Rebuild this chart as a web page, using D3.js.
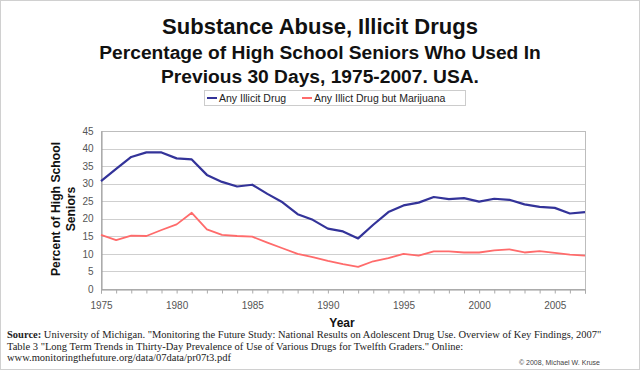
<!DOCTYPE html>
<html>
<head>
<meta charset="utf-8">
<script src="https://cdn.jsdelivr.net/npm/d3@7"></script>
<style>
  body { margin: 0; background: #fff; }
  svg { display: block; }
</style>
</head>
<body>
<div id="chart"></div>
<script>
// ---------------------------------------------------------
// DATA
// ---------------------------------------------------------
const years = d3.range(1975, 2008);

const anyIllicit = [30.7, 34.2, 37.6, 38.9, 38.9, 37.2, 36.9, 32.5, 30.5, 29.2,
  29.7, 27.1, 24.7, 21.3, 19.7, 17.2, 16.4, 14.4, 18.3, 21.9,
  23.8, 24.6, 26.2, 25.6, 25.9, 24.9, 25.7, 25.4, 24.1, 23.4,
  23.1, 21.5, 21.9];

const anyButMarijuana = [15.4, 13.9, 15.2, 15.1, 16.8, 18.4, 21.7, 17.0, 15.4, 15.1,
  14.9, 13.2, 11.6, 10.0, 9.1, 8.0, 7.1, 6.3, 7.9, 8.8,
  10.0, 9.5, 10.7, 10.7, 10.4, 10.4, 11.0, 11.3, 10.4, 10.8,
  10.3, 9.8, 9.5];

const seriesNames = ["Any Illicit Drug", "Any Illict Drug but Marijuana"];
const seriesColors = ["#333399", "#ff6b6b"];
const yTicks = d3.range(0, 50, 5);
const xTickYears = [1975, 1980, 1985, 1990, 1995, 2000, 2005];

const titleLines = [
  "Substance Abuse, Illicit Drugs",
  "Percentage of High School Seniors Who Used In",
  "Previous 30 Days, 1975-2007. USA."
];
const sourceLines = [
  ["Source:", " University of Michigan. \"Monitoring the Future Study: National Results on Adolescent Drug Use. Overview of Key Findings, 2007\""],
  ["", "Table 3 \"Long Term Trends in Thirty-Day Prevalence of Use of Various Drugs for Twelfth Graders.\" Online:"],
  ["", "www.monitoringthefuture.org/data/07data/pr07t3.pdf"]
];

// ---------------------------------------------------------
// SETUP
// ---------------------------------------------------------
const width = 640, height = 370;
const plot = { left: 101, right: 585, top: 131, bottom: 289 };
const sans = "Liberation Sans, Arial, sans-serif";

const svg = d3.select("#chart").append("svg")
  .attr("width", width).attr("height", height);

svg.append("rect")
  .attr("x", 0.5).attr("y", 0.5)
  .attr("width", width - 1).attr("height", height - 1)
  .attr("fill", "#fff").attr("stroke", "#d0d0d0");

const x = d3.scaleLinear().domain([1975, 2007]).range([plot.left, plot.right]);
const y = d3.scaleLinear().domain([0, 45]).range([plot.bottom, plot.top]);

// titles
svg.selectAll(".title").data(titleLines).enter().append("text")
  .attr("x", 320)
  .attr("y", (d, i) => [34, 59, 83][i])
  .attr("text-anchor", "middle")
  .attr("font-family", sans)
  .attr("font-weight", "bold")
  .attr("font-size", (d, i) => i === 0 ? 22 : 19.2)
  .attr("fill", "#111")
  .text(d => d);

// legend
const legend = svg.append("g");
legend.append("rect")
  .attr("x", 204.5).attr("y", 90.5).attr("width", 261).attr("height", 15)
  .attr("fill", "#fff").attr("stroke", "#ccc");
const legendX = [207, 302];
seriesNames.forEach((name, i) => {
  legend.append("line")
    .attr("x1", legendX[i]).attr("x2", legendX[i] + 10)
    .attr("y1", 98).attr("y2", 98)
    .attr("stroke", seriesColors[i]).attr("stroke-width", 2);
  legend.append("text")
    .attr("x", legendX[i] + 12).attr("y", 102)
    .attr("font-family", sans)
    .attr("font-size", 10.5).attr("fill", "#222")
    .text(name);
});

// gridlines
svg.append("g").selectAll("line").data(yTicks.slice(1)).enter().append("line")
  .attr("x1", plot.left).attr("x2", plot.right)
  .attr("y1", d => Math.round(y(d)) + 0.5).attr("y2", d => Math.round(y(d)) + 0.5)
  .attr("stroke", "#cfcfcf");

// plot border
svg.append("rect")
  .attr("x", plot.left + 0.5).attr("y", Math.round(y(45)) + 0.5)
  .attr("width", plot.right - plot.left).attr("height", Math.round(y(0)) - Math.round(y(45)))
  .attr("fill", "none").attr("stroke", "#bdbdbd");

// y axis
const yAxis = svg.append("g")
  .attr("transform", `translate(${plot.left + 0.5},0)`)
  .call(d3.axisLeft(y).tickValues(yTicks).tickSize(0).tickPadding(8));
yAxis.select(".domain").attr("stroke", "#999");
yAxis.selectAll("text")
  .attr("font-family", sans)
  .attr("font-size", 10).attr("fill", "#555");

// x axis
const xAxis = svg.append("g")
  .attr("transform", `translate(0,${Math.round(y(0)) + 0.5})`)
  .call(d3.axisBottom(x).tickValues(years).tickSize(4).tickPadding(8)
    .tickFormat(d => xTickYears.includes(d) ? d : ""));
xAxis.select(".domain").attr("stroke", "#999");
xAxis.selectAll(".tick line").attr("stroke", "#aaa");
xAxis.selectAll("text")
  .attr("font-family", sans)
  .attr("font-size", 10).attr("fill", "#555");

// axis titles
svg.append("text")
  .attr("x", 342).attr("y", 327)
  .attr("text-anchor", "middle")
  .attr("font-family", sans)
  .attr("font-weight", "bold").attr("font-size", 12).attr("fill", "#111")
  .text("Year");

const yTitle = svg.append("text")
  .attr("transform", "translate(60,209) rotate(-90)")
  .attr("text-anchor", "middle")
  .attr("font-family", sans)
  .attr("font-weight", "bold").attr("font-size", 12.2).attr("fill", "#111");
yTitle.append("tspan").attr("x", 0).attr("dy", 0).text("Percent of High School");
yTitle.append("tspan").attr("x", 0).attr("dy", 15).text("Seniors");

// lines
const line = d3.line().x((d, i) => x(years[i])).y(d => y(d));
[anyIllicit, anyButMarijuana].forEach((vals, i) => {
  svg.append("path")
    .datum(vals)
    .attr("d", line)
    .attr("fill", "none")
    .attr("stroke", seriesColors[i])
    .attr("stroke-width", i === 0 ? 2.2 : 1.8)
    .attr("stroke-linejoin", "round");
});

// source
const src = svg.append("g");
sourceLines.forEach((l, i) => {
  const t = src.append("text")
    .attr("x", 7).attr("y", 338 + i * 11.5)
    .attr("font-family", "Liberation Serif, Times New Roman, serif")
    .attr("font-size", 10.5).attr("fill", "#222");
  if (l[0]) t.append("tspan").attr("font-weight", "bold").text(l[0]);
  t.append("tspan").text(l[1]);
});

svg.append("text")
  .attr("x", 600).attr("y", 365)
  .attr("text-anchor", "end")
  .attr("font-family", sans)
  .attr("font-size", 7).attr("fill", "#444")
  .text("\u00a9 2008, Michael W. Kruse");
</script>
</body>
</html>
